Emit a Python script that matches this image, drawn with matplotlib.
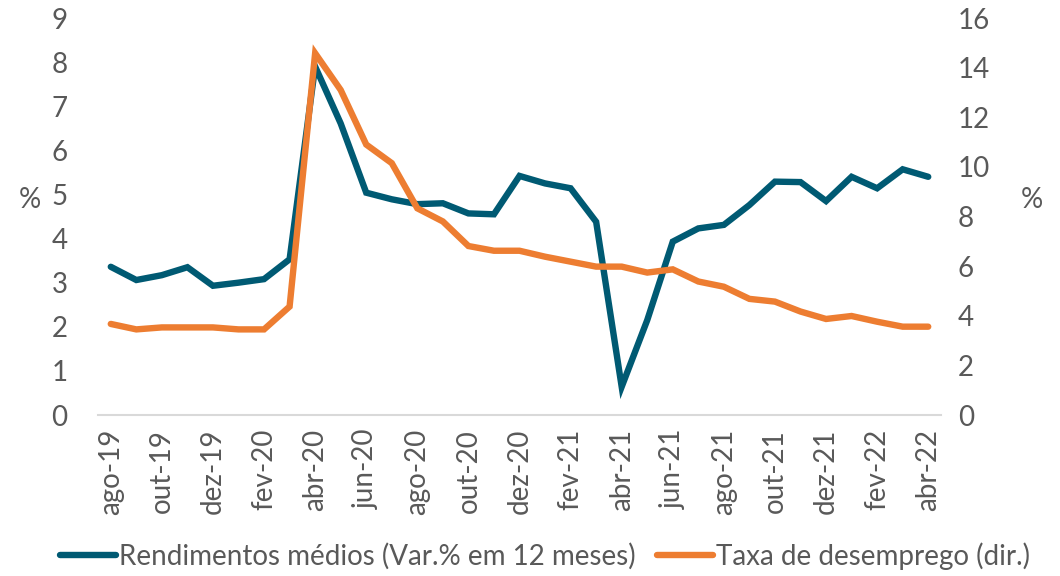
import matplotlib
matplotlib.use("Agg")
import matplotlib.pyplot as plt

months = ["ago-19","set-19","out-19","nov-19","dez-19","jan-20","fev-20","mar-20","abr-20","mai-20",
          "jun-20","jul-20","ago-20","set-20","out-20","nov-20","dez-20","jan-21","fev-21","mar-21",
          "abr-21","mai-21","jun-21","jul-21","ago-21","set-21","out-21","nov-21","dez-21","jan-22",
          "fev-22","mar-22","abr-22"]
rendimentos = [3.36,3.06,3.17,3.35,2.93,3.00,3.08,3.53,7.90,6.61,
               5.04,4.89,4.78,4.80,4.57,4.55,5.42,5.25,5.14,4.38,
               0.64,2.15,3.93,4.23,4.31,4.76,5.29,5.28,4.85,5.40,
               5.14,5.57,5.40]
desemprego = [3.67,3.45,3.53,3.53,3.53,3.45,3.45,4.37,14.58,13.1,
              10.9,10.15,8.33,7.8,6.81,6.62,6.62,6.38,6.18,5.98,
              5.98,5.74,5.87,5.38,5.17,4.68,4.57,4.17,3.87,3.99,
              3.76,3.56,3.56]
left_ticks = list(range(0, 10))
right_ticks = list(range(0, 17, 2))

plt.rcParams['font.family'] = ['Lato', 'DejaVu Sans']
blue = "#005A73"
orange = "#ED7D31"
gray = "#595959"

fig = plt.figure(figsize=(10.6, 5.76), dpi=100)
ax = fig.add_axes([98/1060, 1-415/576, (941-98)/1060, (415-18)/576])
ax2 = ax.twinx()

x = list(range(len(months)))
l1, = ax.plot(x, rendimentos, color=blue, lw=4.6, solid_capstyle='round', solid_joinstyle='miter',
              label="Rendimentos médios (Var.% em 12 meses)", zorder=3)
l2, = ax2.plot(x, desemprego, color=orange, lw=4.6, solid_capstyle='round', solid_joinstyle='miter',
               label="Taxa de desemprego (dir.)", zorder=3)

ax.set_xlim(-0.5, len(months)-0.5)
ax.set_ylim(0, 9)
ax2.set_ylim(0, 16)
ax.set_yticks(left_ticks)
ax2.set_yticks(right_ticks)
ax.set_xticks(x[::2])
ax.set_xticklabels(months[::2], rotation=90)

for a in (ax, ax2):
    for s in a.spines.values():
        s.set_visible(False)
    a.tick_params(length=0, labelsize=20, colors=gray)
ax.spines['bottom'].set_visible(True)
ax.spines['bottom'].set_color("#D9D9D9")
ax.spines['bottom'].set_linewidth(1.5)
ax.tick_params(axis='y', pad=22)
ax2.tick_params(axis='y', pad=12)
ax.tick_params(axis='x', pad=10)

fig.text(30/1060, 1-200/576, "%", fontsize=20, color=gray, ha='center', va='center')
fig.text(1032/1060, 1-200/576, "%", fontsize=20, color=gray, ha='center', va='center')

fig.legend(handles=[l1, l2], loc='center', bbox_to_anchor=(545/1060, 1-556/576), ncol=2, frameon=False,
           fontsize=20, labelcolor=gray, handlelength=2.0, handletextpad=0.1, columnspacing=0.8)

fig.savefig("out.png", dpi=100)
